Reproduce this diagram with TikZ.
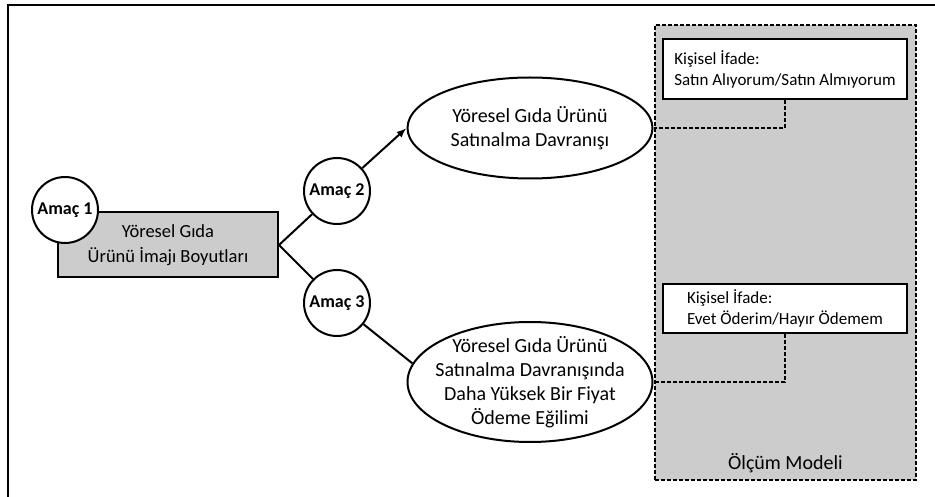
\documentclass[tikz,border=0pt]{standalone}
\usepackage{fontspec}
\setmainfont{Carlito}
\usepackage{xcolor}
\usetikzlibrary{arrows.meta, shapes.geometric}
\definecolor{modelGray}{RGB}{204,204,204}

\begin{document}
\begin{tikzpicture}[x=1pt, y=-1pt,
    imagebox/.style={rectangle, draw=black, line width=2pt, fill=modelGray, align=center, minimum width=220pt, minimum height=65pt, font=\fontsize{18.5}{25}\selectfont},
    goalcircle/.style={circle, draw=black, line width=2pt, fill=white, minimum size=66pt, inner sep=0pt, font=\fontsize{18}{20}\selectfont\bfseries},
    outcome/.style={ellipse, draw=black, line width=2pt, fill=white, minimum width=245pt, inner sep=0pt},
    outcometext/.style={align=center, font=\fontsize{20}{24}\selectfont},
    statebox/.style={rectangle, draw=black, line width=2pt, fill=white, align=left, minimum width=244pt, font=\fontsize{17}{21}\selectfont},
    modelbox/.style={rectangle, draw=black, line width=2pt, dash pattern=on 4pt off 2pt, fill=modelGray, minimum width=261pt, minimum height=455pt},
    arrow/.style={-{Latex[length=3.5mm]}, line width=2pt},
    link/.style={line width=2pt},
    dashedlink/.style={line width=2pt, dash pattern=on 4pt off 2pt}
]
\useasboundingbox (0,0) rectangle (935,497);

% Frame
\draw[line width=2.5pt] (8,497) -- (8,5) -- (935,5);

% Measurement model
\node[modelbox] (model) at (785.5,252.5) {};
\node[font=\fontsize{20}{22}\selectfont] (modeltitle) at (785.5,463) {Ölçüm Modeli};
\node[statebox, minimum height=60pt] (stateA) at (785,69) {Kişisel İfade:\\Satın Alıyorum/Satın Almıyorum};
\node[statebox, minimum height=49pt] (stateB) at (785,308.5) {Kişisel İfade:\\Evet Öderim/Hayır Ödemem};

% Main nodes
\node[imagebox] (image) at (168,245) {Yöresel Gıda\\Ürünü İmajı Boyutları};
\node[goalcircle] (goal1) at (65,210) {Amaç 1};
\node[goalcircle] (goal2) at (337,191) {Amaç 2};
\node[goalcircle] (goal3) at (337,303) {Amaç 3};
\node[outcome, minimum height=101pt, label={[outcometext]center:Yöresel Gıda Ürünü\\Satınalma Davranışı}] (buy) at (530,128) {};
\node[outcome, minimum height=120pt, label={[outcometext]center:Yöresel Gıda Ürünü\\Satınalma Davranışında\\Daha Yüksek Bir Fiyat\\Ödeme Eğilimi}] (premium) at (530,382) {};

% Main arrows
\draw[link] (image.east) -- (goal2);
\draw[arrow] (goal2) -- (buy.west);
\draw[link] (image.east) -- (goal3);
\draw[link] (goal3) -- (premium.171);

% Measurement links
\draw[dashedlink] (stateA.south) |- (buy.east);
\draw[dashedlink] (stateB.south) |- (premium.east);

\end{tikzpicture}
\end{document}
